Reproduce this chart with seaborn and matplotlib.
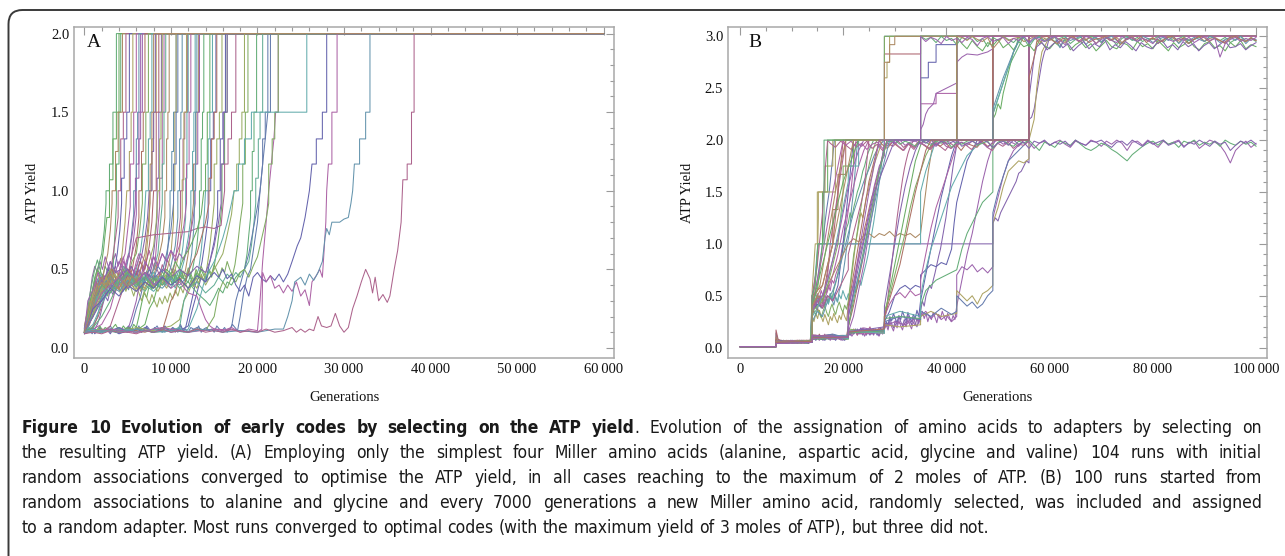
import colorsys
import numpy as np
import pandas as pd
import matplotlib
matplotlib.use("Agg")
import matplotlib.pyplot as plt
import matplotlib.patches as mpatches
from matplotlib import font_manager, transforms
import seaborn as sns

# ---------------- data: (colour index, [(generations in thousands, ATP yield), ...]) ----------------
# panel A: four Miller amino acids, every run ends at 2 ATP
a_fast = [
    (3, [(0, .12), (.4, .2), (.8, .32), (1.2, .45), (1.6, .52), (2, .6), (2.3, .75), (2.5, .92), (2.5, 1.0), (2.9, 1.0), (2.9, 1.17), (3.3, 1.17), (3.3, 1.5), (3.7, 1.5), (3.7, 2.0), (60, 2.0)]),
    (7, [(0, .1), (.5, .25), (1, .38), (1.5, .5), (1.8, .47), (2.2, .62), (2.6, .83), (2.9, .83), (2.9, 1.07), (3.3, 1.07), (3.3, 1.33), (3.7, 1.33), (3.7, 1.5), (4.0, 1.5), (4.0, 2.0), (60, 2.0)]),
    (6, [(0, .14), (.3, .22), (.7, .3), (1.1, .27), (1.5, .4), (1.9, .36), (2.3, .5), (2.7, .6), (3, .75), (3.2, .92), (3.2, 1.0), (3.6, 1.0), (3.6, 1.25), (3.9, 1.25), (3.9, 1.5), (4.4, 1.5), (4.4, 2.0), (60, 2.0)]),
    (1, [(0, .1), (.4, .18), (.9, .3), (1.4, .42), (1.8, .35), (2.3, .46), (2.8, .4), (3.2, .55), (3.6, .7), (3.9, .83), (3.9, 1.0), (4.2, 1.0), (4.2, 1.33), (4.5, 1.33), (4.5, 1.5), (4.8, 1.5), (4.8, 2.0), (60, 2.0)]),
    (0, [(0, .09), (.3, .15), (.8, .28), (1.3, .35), (1.8, .45), (2.3, .38), (2.8, .5), (3.3, .44), (3.8, .6), (4.1, .75), (4.3, .92), (4.3, 1.08), (4.6, 1.08), (4.6, 1.33), (4.9, 1.33), (4.9, 1.5), (5.2, 1.5), (5.2, 2.0), (60, 2.0)]),
    (2, [(0, .12), (.5, .22), (1, .35), (1.5, .48), (2, .4), (2.5, .45), (3, .38), (3.5, .5), (4, .45), (4.4, .62), (4.7, .8), (4.9, 1.0), (5.2, 1.0), (5.2, 1.25), (5.4, 1.25), (5.4, 1.5), (5.6, 1.5), (5.6, 2.0), (60, 2.0)]),
    (5, [(0, .1), (.6, .2), (1.2, .3), (1.8, .42), (2.4, .35), (3, .48), (3.6, .4), (4.2, .52), (4.7, .6), (5, .75), (5.3, .9), (5.3, 1.17), (5.7, 1.17), (5.7, 1.5), (6.0, 1.5), (6.0, 2.0), (60, 2.0)]),
    (8, [(0, .13), (.5, .2), (1, .27), (1.5, .38), (2, .45), (2.5, .38), (3, .42), (3.5, .35), (4, .46), (4.5, .4), (5, .55), (5.4, .7), (5.7, .85), (5.7, 1.0), (6, 1.0), (6, 1.33), (6.15, 1.33), (6.15, 1.5), (6.3, 1.5), (6.3, 2.0), (60, 2.0)]),
    (9, [(0, .1), (.4, .3), (1, .37), (1.6, .48), (2.2, .4), (2.8, .52), (3.4, .45), (4, .55), (4.6, .48), (5.2, .6), (5.6, .75), (5.9, .92), (5.9, 1.08), (6.3, 1.08), (6.3, 1.33), (6.5, 1.33), (6.5, 1.5), (6.7, 1.5), (6.7, 2.0), (60, 2.0)]),
    (10, [(0, .11), (.7, .18), (1.4, .25), (2, .33), (2.6, .45), (3.2, .5), (3.8, .42), (4.4, .48), (5, .4), (5.6, .52), (6, .65), (6.3, .83), (6.3, 1.0), (6.6, 1.0), (6.6, 1.25), (6.8, 1.25), (6.8, 1.5), (7, 1.5), (7, 2.0), (60, 2.0)]),
    (11, [(0, .1), (.5, .15), (1, .22), (1.5, .3), (2, .35), (2.5, .42), (3, .38), (3.5, .47), (4, .43), (4.5, .5), (5, .45), (5.5, .55), (6, .6), (6.4, .75), (6.7, .92), (6.7, 1.17), (7.1, 1.17), (7.1, 1.5), (7.4, 1.5), (7.4, 2.0), (60, 2.0)]),
    (12, [(0, .1), (.5, .13), (1, .12), (1.5, .2), (2, .32), (2.5, .4), (3, .45), (3.5, .38), (4, .44), (4.5, .36), (5, .45), (5.5, .42), (6, .5), (6.5, .62), (6.9, .8), (7.1, 1.0), (7.4, 1.0), (7.4, 1.33), (7.6, 1.33), (7.6, 1.5), (7.8, 1.5), (7.8, 2.0), (60, 2.0)]),
    (13, [(0, .12), (.6, .2), (1.2, .28), (1.8, .36), (2.4, .45), (3, .55), (3.6, .48), (4.2, .5), (4.8, .44), (5.4, .52), (6, .46), (6.6, .58), (7, .7), (7.3, .83), (7.5, 1.0), (7.8, 1.0), (7.8, 1.25), (8, 1.25), (8, 1.5), (8.2, 1.5), (8.2, 2.0), (60, 2.0)]),
    (14, [(0, .1), (.8, .12), (1.6, .2), (2.2, .3), (2.8, .42), (3.4, .38), (4, .47), (4.6, .4), (5.2, .5), (5.8, .43), (6.4, .55), (7, .5), (7.5, .65), (7.8, .8), (8, 1.0), (8.3, 1.0), (8.3, 1.5), (8.6, 1.5), (8.6, 2.0), (60, 2.0)]),
    (15, [(0, .11), (1, .2), (2, .35), (2.5, .45), (3, .5), (3.5, .42), (4, .46), (4.5, .4), (5, .5), (5.5, .45), (6, .38), (6.5, .47), (7, .43), (7.5, .55), (8, .65), (8.3, .8), (8.5, 1.0), (8.7, 1.0), (8.7, 1.33), (8.85, 1.33), (8.85, 1.5), (9, 1.5), (9, 2.0), (60, 2.0)]),
    (16, [(0, .1), (.5, .14), (1, .26), (1.5, .33), (2, .3), (2.5, .38), (3, .46), (3.5, .4), (4, .45), (4.5, .52), (5, .47), (5.5, .4), (6, .45), (6.5, .38), (7, .48), (7.5, .42), (8, .5), (8.5, .6), (8.8, .8), (9, .92), (9, 1.17), (9.2, 1.17), (9.2, 1.5), (9.4, 1.5), (9.4, 2.0), (60, 2.0)]),
    (2, [(0, .1), (.5, .2), (1, .32), (1.5, .4), (2, .36), (2.5, .44), (3, .4), (3.5, .47), (4, .42), (4.5, .38), (5, .44), (5.5, .4), (6, .46), (6.5, .41), (7, .37), (7.5, .43), (8, .39), (8.5, .45), (9, .4), (9.5, .48), (10, .6), (10.3, .8), (10.3, 1.0), (10.45, 1.0), (10.45, 1.5), (10.6, 1.5), (10.6, 2.0), (60, 2.0)]),
    (12, [(0, .1), (.7, .2), (1.4, .3), (2, .38), (3, .35), (4, .42), (5, .38), (6, .44), (7, .4), (8, .36), (9, .42), (10, .38), (10.5, .44), (11, .5), (11.4, .65), (11.7, .83), (11.7, 1.08), (11.85, 1.08), (11.85, 1.5), (12, 1.5), (12, 2.0), (60, 2.0)]),
]

a_mid = [
    (6, [(0, .1), (1, .25), (1.5, .4), (2, .45), (2.5, .4), (3, .47), (3.5, .43), (4, .38), (4.5, .44), (5, .48), (5.5, .4), (6, .44), (6.5, .36), (7, .42), (7.5, .4), (8, .46), (8.5, .55), (9, .68), (9.3, .83), (9.3, 1.0), (9.5, 1.0), (9.5, 1.33), (9.65, 1.33), (9.65, 1.5), (9.8, 1.5), (9.8, 2.0), (60, 2.0)]),
    (1, [(0, .1), (1, .12), (2, .1), (3, .14), (3.5, .22), (4, .3), (4.5, .38), (5, .45), (5.5, .6), (6, .7), (8, .72), (10, .73), (12, .74), (13, .76), (14, .77), (15, .76), (15.8, .78), (16, .9), (16.2, 1.0), (16.2, 1.17), (16.6, 1.17), (16.6, 1.33), (17, 1.33), (17, 1.5), (17.5, 1.5), (17.5, 2.0), (60, 2.0)]),
    (4, [(0, .1), (1, .11), (2, .1), (3, .12), (4, .11), (5, .1), (5.5, .15), (6, .25), (6.5, .33), (7, .45), (7.5, .5), (8, .44), (8.5, .52), (9, .48), (9.5, .6), (10, .75), (10.3, .92), (10.3, 1.17), (10.6, 1.17), (10.6, 1.5), (10.8, 1.5), (10.8, 2.0), (60, 2.0)]),
    (8, [(0, .12), (.5, .2), (1, .3), (2, .4), (3, .45), (4, .4), (5, .47), (6, .42), (7, .48), (8, .4), (9, .46), (9.5, .42), (10, .52), (10.5, .65), (10.8, .83), (10.8, 1.0), (11, 1.0), (11, 1.33), (11.15, 1.33), (11.15, 1.5), (11.3, 1.5), (11.3, 2.0), (60, 2.0)]),
    (2, [(0, .1), (1, .2), (1.5, .3), (2, .38), (2.5, .45), (3, .4), (3.5, .35), (4, .42), (4.5, .38), (5, .45), (5.5, .4), (6, .36), (6.5, .42), (7, .38), (7.5, .44), (8, .4), (8.5, .36), (9, .42), (9.5, .38), (10, .44), (10.5, .5), (11, .62), (11.3, .83), (11.3, 1.07), (11.5, 1.07), (11.5, 1.5), (11.8, 1.5), (11.8, 2.0), (60, 2.0)]),
    (5, [(0, .1), (1, .12), (2, .15), (3, .25), (3.5, .35), (4, .4), (4.5, .55), (5, .5), (5.5, .45), (6, .52), (6.5, .6), (7, .55), (7.5, .5), (8, .58), (8.5, .52), (9, .6), (9.5, .55), (10, .62), (10.5, .58), (11, .65), (11.5, .78), (11.8, .92), (11.8, 1.17), (12.1, 1.17), (12.1, 1.5), (12.3, 1.5), (12.3, 2.0), (60, 2.0)]),
    (12, [(0, .1), (1, .15), (2, .28), (3, .38), (4, .45), (5, .4), (6, .46), (7, .42), (8, .48), (9, .4), (10, .45), (10.5, .38), (11, .45), (11.5, .55), (12, .7), (12.3, .83), (12.3, 1.0), (12.5, 1.0), (12.5, 1.25), (12.65, 1.25), (12.65, 1.5), (12.8, 1.5), (12.8, 2.0), (60, 2.0)]),
    (9, [(0, .1), (1, .1), (2, .12), (3, .1), (4, .13), (5, .11), (5.5, .2), (6, .3), (6.5, .45), (7, .55), (7.5, .5), (8, .58), (8.5, .52), (9, .6), (9.5, .55), (10, .62), (10.5, .55), (11, .6), (11.5, .56), (12, .65), (12.5, .8), (12.8, .92), (12.8, 1.17), (13.1, 1.17), (13.1, 1.5), (13.3, 1.5), (13.3, 2.0), (60, 2.0)]),
    (8, [(0, .11), (1, .2), (2, .32), (3, .4), (4, .36), (5, .43), (6, .39), (7, .45), (8, .41), (9, .38), (10, .44), (11, .4), (12, .46), (12.4, .6), (12.7, .8), (12.7, 1.0), (12.85, 1.0), (12.85, 1.5), (13, 1.5), (13, 2.0), (60, 2.0)]),
    (3, [(0, .11), (1, .13), (2, .2), (3, .3), (4, .42), (5, .48), (6, .4), (7, .45), (8, .38), (9, .44), (10, .4), (11, .46), (12, .42), (12.5, .5), (13, .65), (13.3, .83), (13.3, 1.0), (13.5, 1.0), (13.5, 1.33), (13.65, 1.33), (13.65, 1.5), (13.8, 1.5), (13.8, 2.0), (60, 2.0)]),
    (7, [(0, .1), (1, .11), (2, .1), (3, .12), (4, .1), (5, .13), (6, .11), (7, .15), (7.5, .25), (8, .3), (8.5, .4), (9, .45), (9.5, .5), (10, .47), (10.5, .55), (11, .5), (11.5, .58), (12, .62), (12.5, .68), (13, .75), (13.5, .85), (13.8, 1.0), (14, 1.0), (14, 1.17), (14.2, 1.17), (14.2, 1.5), (14.5, 1.5), (14.5, 2.0), (60, 2.0)]),
    (10, [(0, .1), (1, .12), (2, .1), (3, .11), (4, .1), (5, .12), (6, .11), (7, .1), (8, .12), (9, .11), (9.5, .2), (10, .3), (10.5, .35), (11, .45), (11.5, .4), (12, .48), (12.5, .55), (13, .6), (13.5, .7), (14, .8), (14.4, .92), (14.4, 1.08), (14.7, 1.08), (14.7, 1.33), (15, 1.33), (15, 1.5), (15.3, 1.5), (15.3, 2.0), (60, 2.0)]),
    (0, [(0, .09), (1, .11), (2, .1), (3, .12), (4, .09), (5, .11), (6, .1), (7, .13), (8, .1), (9, .12), (10, .1), (11, .11), (12, .14), (12.5, .25), (13, .35), (13.5, .45), (14, .42), (14.5, .55), (15, .68), (15.4, .83), (15.4, 1.0), (15.7, 1.0), (15.7, 1.33), (16, 1.33), (16, 1.5), (16.3, 1.5), (16.3, 2.0), (60, 2.0)]),
    (13, [(0, .1), (1, .2), (2, .3), (3, .38), (4, .45), (5, .5), (6, .42), (7, .48), (8, .44), (9, .5), (10, .45), (11, .5), (12, .46), (13, .52), (14, .48), (14.5, .55), (15, .65), (15.5, .8), (15.8, .92), (15.8, 1.17), (16.1, 1.17), (16.1, 1.5), (16.5, 1.5), (16.5, 2.0), (60, 2.0)]),
    (15, [(0, .1), (2, .12), (4, .1), (6, .13), (8, .11), (10, .14), (11, .18), (11.5, .3), (12, .35), (12.5, .42), (13, .38), (13.5, .46), (14, .4), (14.5, .45), (15, .5), (15.5, .55), (16, .6), (16.5, .72), (17, .85), (17.3, 1.0), (17.6, 1.0), (17.6, 1.17), (17.9, 1.17), (17.9, 1.33), (18.2, 1.33), (18.2, 1.5), (18.5, 1.5), (18.5, 2.0), (60, 2.0)]),
]

a_slow = [
    (3, [(0, .1), (1, .3), (2, .4), (3, .35), (4, .45), (5, .38), (6, .42), (7, .36), (8, .45), (9, .4), (10, .46), (11, .38), (12, .42), (13, .35), (14, .3), (14.5, .27), (15, .32), (15.5, .38), (16, .35), (16.5, .42), (17, .4), (17.5, .45), (18, .48), (18.5, .5), (18.8, .6), (19, .72), (19.2, .83), (19.2, 1.0), (19.4, 1.0), (19.4, 1.25), (19.6, 1.25), (19.6, 1.5), (19.9, 1.5), (19.9, 2.0), (60, 2.0)]),
    (16, [(0, .1), (2, .1), (4, .12), (6, .1), (8, .12), (10, .11), (11, .13), (11.5, .3), (12, .38), (13, .42), (14, .35), (15, .4), (15.5, .45), (16, .42), (16.5, .47), (17, .44), (17.5, .48), (18, .45), (18.5, .5), (19, .55), (19.3, .65), (19.6, .8), (19.8, .92), (19.8, 1.08), (20.1, 1.08), (20.1, 1.33), (20.3, 1.33), (20.3, 1.5), (20.6, 1.5), (20.6, 2.0), (60, 2.0)]),
    (4, [(0, .1), (1, .12), (2, .1), (3, .11), (4, .13), (5, .1), (6, .12), (7, .11), (8, .1), (9, .13), (10, .11), (11, .12), (12, .1), (13, .13), (14, .11), (15, .12), (16, .1), (17, .13), (17.5, .3), (18, .4), (18.5, .5), (19, .6), (19.5, .75), (20, .9), (20.3, 1.0), (20.6, 1.17), (20.9, 1.33), (21.2, 1.5), (21.5, 1.5), (21.5, 2.0), (60, 2.0)]),
    (5, [(0, .12), (1, .25), (2, .35), (3, .4), (4, .45), (5, .38), (6, .42), (7, .48), (8, .4), (9, .45), (10, .38), (11, .42), (12, .35), (13, .33), (13.5, .25), (14, .18), (14.5, .14), (15, .12), (16, .11), (17, .13), (18, .1), (19, .12), (20, .11), (20.3, .3), (20.6, .55), (21, .8), (21.3, 1.0), (21.6, 1.17), (21.9, 1.33), (22.1, 1.5), (22.4, 1.5), (22.4, 2.0), (60, 2.0)]),
    (11, [(0, .1), (2, .11), (4, .1), (6, .12), (8, .1), (10, .11), (12, .1), (13, .12), (14, .11), (15, .2), (15.5, .35), (16, .42), (16.5, .38), (17, .45), (17.5, .42), (18, .48), (18.5, .5), (19, .45), (19.5, .52), (20, .58), (20.5, .7), (21, .82), (21.3, .92), (21.3, 1.17), (21.7, 1.17), (21.7, 1.33), (22, 1.33), (22, 1.5), (22.4, 1.5), (22.4, 2.0), (60, 2.0)]),
    (12, [(0, .1), (1, .12), (2, .1), (3, .11), (4, .1), (5, .12), (6, .1), (7, .11), (8, .12), (9, .1), (10, .11), (11, .13), (11.5, .1), (12, .12), (13, .25), (13.5, .35), (14, .45), (14.5, .5), (15, .55), (15.5, .62), (16, .7), (16.5, .8), (17, .92), (17.3, 1.0), (17.8, 1.0), (17.8, 1.17), (18.5, 1.17), (18.5, 1.33), (19.3, 1.33), (19.3, 1.5), (25.7, 1.5), (25.7, 2.0), (60, 2.0)]),
    (0, [(0, .1), (1, .25), (2, .3), (3, .38), (4, .33), (5, .4), (6, .36), (7, .42), (8, .38), (9, .45), (10, .4), (11, .44), (12, .38), (13, .46), (14, .42), (15, .48), (15.5, .45), (16, .5), (16.5, .44), (17, .47), (17.5, .4), (18, .36), (18.5, .4), (19, .33), (19.5, .45), (20, .48), (20.5, .44), (21, .42), (21.5, .46), (22, .43), (22.5, .47), (23, .42), (23.5, .47), (24, .55), (24.6, .65), (25, .7), (25.5, .83), (26, 1.0), (26.3, 1.17), (26.8, 1.17), (26.8, 1.33), (27.5, 1.33), (27.5, 1.5), (28, 1.5), (28, 2.0), (60, 2.0)]),
    (5, [(0, .1), (3, .12), (6, .1), (9, .13), (12, .1), (15, .12), (18, .11), (20, .1), (20.5, .12), (20.6, .48), (21, .42), (21.5, .46), (22, .38), (22.5, .4), (23, .35), (23.5, .4), (24, .36), (24.5, .42), (25, .33), (25.5, .37), (26, .27), (26.3, .42), (26.8, .46), (27.2, .5), (27.5, .45), (27.7, .62), (27.9, .8), (28, 1.0), (28.2, 1.17), (28.6, 1.17), (28.6, 1.5), (29.2, 1.5), (29.2, 2.0), (60, 2.0)]),
    (8, [(0, .1), (2, .11), (4, .1), (6, .12), (8, .1), (10, .11), (12, .1), (14, .12), (16, .1), (18, .11), (20, .1), (22, .12), (23, .12), (23.5, .2), (24, .3), (24.3, .42), (25, .45), (25.5, .4), (26, .47), (26.5, .43), (27, .48), (27.5, .55), (27.8, .7), (28, .76), (28.3, .72), (28.6, .8), (29.5, .8), (30, .82), (30.5, .83), (30.8, .92), (31, 1.0), (31.2, 1.17), (31.8, 1.17), (31.8, 1.33), (32.5, 1.33), (32.5, 1.5), (33, 1.5), (33, 2.0), (60, 2.0)]),
    (1, [(0, .09), (1, .1), (2, .09), (3, .11), (4, .1), (5, .1), (6, .09), (7, .11), (8, .1), (9, .12), (10, .1), (11, .11), (12, .1), (13, .12), (14, .1), (15, .11), (16, .1), (17, .12), (18, .1), (19, .11), (20, .1), (21, .12), (22, .1), (23, .11), (24, .13), (24.5, .1), (25, .12), (25.5, .1), (26, .12), (26.5, .11), (27, .2), (27.4, .14), (28, .13), (28.5, .14), (29, .22), (29.5, .14), (30, .1), (30.5, .13), (31, .25), (31.5, .33), (32, .42), (32.5, .5), (33, .44), (33.3, .35), (33.6, .45), (34, .3), (34.5, .34), (35, .29), (35.3, .33), (35.8, .5), (36.2, .62), (36.6, .8), (36.8, 1.07), (37.3, 1.07), (37.3, 1.17), (37.8, 1.17), (37.8, 1.5), (38.1, 1.5), (38.1, 2.0), (60, 2.0)]),
    (6, [(0, .1), (.5, .18), (1, .3), (1.5, .36), (2, .42), (2.5, .38), (3, .45), (3.5, .4), (4, .37), (4.5, .43), (5, .39), (5.5, .46), (6, .42), (6.5, .5), (7, .6), (7.3, .75), (7.6, .92), (7.6, 1.17), (7.8, 1.17), (7.8, 1.5), (8, 1.5), (8, 2.0), (60, 2.0)]),
]

# noisy runs in panel A sampled every 300 generations from 0: (colour, yields, then the climb to 2 ATP)
a_swarm = [
    (2, [.1, .15, .22, .3, .36, .33, .41, .45, .39, .47, .42, .5, .44, .4, .48, .43, .52, .46, .41, .49, .44, .38, .46, .5],
     [(7.2, .62), (7.5, .8), (7.5, 1.0), (7.8, 1.0), (7.8, 1.33), (8.0, 1.33), (8.0, 1.5), (8.3, 1.5), (8.3, 2.0), (60, 2.0)]),
    (8, [.12, .18, .26, .35, .42, .38, .45, .4, .36, .43, .47, .41, .38, .44, .4, .46, .42, .37, .43, .48, .41, .45, .39, .44, .47, .42, .38, .45, .41, .46, .43, .49],
     [(9.6, .6), (9.9, .83), (9.9, 1.0), (10.1, 1.0), (10.1, 1.25), (10.3, 1.25), (10.3, 1.5), (10.6, 1.5), (10.6, 2.0), (60, 2.0)]),
    (9, [.1, .2, .32, .45, .52, .48, .55, .5, .58, .53, .47, .55, .6, .52, .57, .49, .54, .6, .56],
     [(5.7, .7), (6.0, .85), (6.0, 1.17), (6.3, 1.17), (6.3, 1.5), (6.5, 1.5), (6.5, 2.0), (60, 2.0)]),
    (0, [.09, .11, .1, .12, .09, .11, .13, .1, .12, .11, .09, .12, .1, .13, .11, .1, .12, .14, .11, .1, .13, .12, .1, .11, .14, .12, .1, .13, .11, .12, .1, .14, .12, .11, .13, .1, .12, .15, .11, .13],
     [(12, .2), (12.4, .3), (12.8, .4), (13.2, .45), (13.6, .55), (14, .7), (14.3, .83), (14.3, 1.0), (14.6, 1.0), (14.6, 1.33), (14.9, 1.33), (14.9, 1.5), (15.2, 1.5), (15.2, 2.0), (60, 2.0)]),
    (4, [.1, .12, .11, .09, .12, .1, .13, .11, .1, .12, .14, .11, .1, .13, .12, .1, .11, .13, .1, .12, .11, .14, .1, .12, .13, .11, .1, .12, .14, .11,
         .13, .1, .12, .11, .13, .12, .1, .14, .11, .12, .1, .13, .12, .11, .14, .1, .12, .13, .11, .12, .1, .14, .12, .11, .13, .1, .12, .15, .13, .11],
     [(18, .2), (18.4, .35), (18.8, .45), (19.2, .5), (19.6, .65), (20, .8), (20.3, 1.0), (20.6, 1.17), (20.6, 1.33), (20.9, 1.33), (20.9, 1.5), (21.2, 1.5), (21.2, 2.0), (60, 2.0)]),
    (5, [.11, .16, .24, .3, .38, .44, .4, .47, .43, .5, .55, .48, .52, .46, .53, .58, .5, .45, .52, .48, .55, .6, .53, .49, .56, .62, .55, .5],
     [(8.4, .7), (8.7, .9), (8.7, 1.08), (9, 1.08), (9, 1.5), (9.2, 1.5), (9.2, 2.0), (60, 2.0)]),
    (3, [.13, .22, .33, .42, .5, .56, .5, .45, .52, .48, .43, .5],
     [(3.5, .7), (3.7, .92), (3.7, 1.17), (4.0, 1.17), (4.0, 1.5), (4.2, 1.5), (4.2, 2.0), (60, 2.0)]),
    (6, [.1, .13, .18, .25, .31, .37, .34, .41, .38, .44, .4, .36, .42, .39, .45, .41, .37, .43, .4, .46, .42, .38, .44, .41, .47, .43, .39, .45, .42, .48, .44, .4, .46, .43, .49, .45, .41, .47, .44, .5],
     [(12, .6), (12.3, .75), (12.6, .92), (12.6, 1.17), (12.9, 1.17), (12.9, 1.5), (13.2, 1.5), (13.2, 2.0), (60, 2.0)]),
    (12, [.1, .14, .21, .29, .36, .42, .47, .43, .39, .45, .41, .48, .44, .4, .46, .43, .38, .44, .41, .47, .43, .39, .45, .42, .48, .44, .41, .46, .43, .38,
          .45, .42, .47, .44, .4, .46, .43, .49, .45, .42, .47, .44, .4, .46, .5],
     [(13.5, .62), (13.8, .8), (14, 1.0), (14.3, 1.0), (14.3, 1.33), (14.5, 1.33), (14.5, 1.5), (14.8, 1.5), (14.8, 2.0), (60, 2.0)]),
    (11, [.12, .17, .23, .3, .27, .35, .32, .4, .37, .33, .41, .38, .44, .4, .36, .43, .39, .46, .42, .38, .45, .41, .37, .44, .4, .47, .43, .39, .46, .42,
          .49, .45, .41, .48, .44, .5, .46, .42, .49, .45, .51, .47, .43, .5, .46, .52, .48, .44, .5, .47, .53, .49, .45, .51, .48, .55, .5, .46, .53],
     [(17.7, .65), (18, .8), (18.3, .92), (18.3, 1.17), (18.6, 1.17), (18.6, 1.5), (18.9, 1.5), (18.9, 2.0), (60, 2.0)]),
    (1, [.1, .12, .15, .2, .26, .32, .38, .35, .42, .39, .45, .41, .37, .44, .4, .47, .43, .5, .46, .42, .49, .45, .52, .48, .44, .51, .47, .54, .5, .46, .53, .49, .56, .52, .48, .55],
     [(10.8, .68), (11.1, .83), (11.1, 1.0), (11.4, 1.0), (11.4, 1.33), (11.6, 1.33), (11.6, 1.5), (11.9, 1.5), (11.9, 2.0), (60, 2.0)]),
    (13, [.1, .11, .13, .1, .12, .15, .2, .27, .33, .3, .37, .34, .41, .38, .45, .42, .48, .44, .4, .47, .43, .5, .46, .42, .49, .45, .52],
     [(8.1, .65), (8.4, .83), (8.4, 1.08), (8.6, 1.08), (8.6, 1.5), (8.9, 1.5), (8.9, 2.0), (60, 2.0)]),
    (7, [.1, .12, .11, .13, .1, .12, .14, .11, .13, .12, .1, .13, .15, .12, .11, .14, .12, .13, .11, .15, .13, .2, .28, .35, .32, .4, .37, .44, .41, .38,
         .45, .42, .48, .44, .4, .47, .43, .5, .46, .42, .49, .45, .41, .48, .44, .5, .46, .43, .49, .45, .52],
     [(15.3, .62), (15.6, .75), (15.9, .92), (15.9, 1.17), (16.2, 1.17), (16.2, 1.5), (16.5, 1.5), (16.5, 2.0), (60, 2.0)]),
    (15, [.11, .18, .27, .36, .44, .4, .36, .42, .38, .45, .41, .37, .43, .39, .34, .4, .36, .42, .38, .33, .39, .35, .3, .36, .32, .28, .34, .3, .26, .32,
          .28, .33, .29, .35, .31, .37, .33, .39, .35, .41, .37, .43, .39, .45, .41, .47, .43, .49],
     [(14.4, .6), (14.7, .75), (15, .92), (15, 1.17), (15.3, 1.17), (15.3, 1.33), (15.6, 1.33), (15.6, 1.5), (15.9, 1.5), (15.9, 2.0), (60, 2.0)]),
]
a_swarm_step = 0.3

# panel B: a new amino acid every 7000 generations
b_start = [(0, .01), (7, .01)]
b_runs = [
    (4, [(7, .07), (10, .06), (14, .05), (14, .45), (14.5, .52), (15, .65), (15.5, .82), (16, 1.0), (16.4, 1.17), (16.8, 1.33), (17.3, 1.5), (17.8, 1.75), (18.3, 2.0), (28, 2.0), (28, 3.0), (100, 3.0)]),
    (14, [(7, .17), (7.4, .08), (9, .05), (11, .07), (14, .07), (14, .3), (14.5, .42), (15, .36), (15.5, .5), (16, .45), (16.5, .6), (17, .75), (17.5, .9), (18, 1.0), (18.5, 1.25), (19, 1.5), (19.5, 1.75), (20, 2.0), (28, 2.0), (28, 2.83), (35, 2.83), (35, 3.0), (100, 3.0)]),
    (2, [(7, .06), (14, .05), (14, .55), (14.6, 1.0), (15, 1.0), (15, 1.5), (16.5, 1.5), (16.5, 1.75), (18, 1.75), (18, 2.0), (28, 2.0), (28, 2.6), (28.5, 2.6), (28.5, 2.75), (29, 2.75), (29, 3.0), (100, 3.0)]),
    (1, [(7, .06), (14, .07), (14, .4), (15, .48), (16, .42), (16.5, .55), (17, .7), (17.5, 1.0), (18, 1.17), (18.5, 1.33), (19, 1.5), (19.5, 1.67), (20, 1.83), (20.5, 2.0), (42, 2.0), (42, 3.0), (100, 3.0)]),
    (0, [(7, .05), (14, .05), (14, .35), (15, .42), (16, .38), (17, .5), (18, .45), (19, .6), (19.5, .8), (20, 1.0), (20.5, 1.25), (21, 1.5), (21.5, 1.75), (22, 2.0), (35, 2.0), (35, 2.6), (36.5, 2.6), (36.5, 2.75), (38, 2.75), (38, 2.92), (42, 2.92), (42, 3.0), (100, 3.0)]),
    (5, [(7, .05), (14, .06), (14, .35), (15, .45), (16, .4), (17, .55), (18, .7), (19, .9), (20, 1.15), (21, 1.35), (22, 1.55), (23, 1.75), (24, 1.9), (25, 2.0), (35, 2.0), (35, 2.35), (38, 2.35), (38, 2.45), (42, 2.45), (42, 3.0), (100, 3.0)]),
    (8, [(7, .06), (14, .06), (14, .25), (15, .35), (16, .3), (17, .45), (18, .55), (19, .7), (20, .9), (21, 1.1), (22, 1.3), (23, 1.45), (24, 1.6), (25, 1.72), (26, 1.85), (27, 1.95), (28, 2.0), (49, 2.0), (49, 3.0), (100, 3.0)]),
    (10, [(7, .05), (14, .05), (14, .1), (17, .12), (21, .11), (21, .2), (22, .4), (23, .65), (24, .9), (25, 1.2), (26, 1.45), (27, 1.7), (28, 1.9), (28.5, 2.0), (56, 2.0), (56, 3.0), (100, 3.0)]),
    (6, [(7, .06), (14, .07), (14, .4), (15, .5), (16, .45), (17, .6), (18, .7), (19, .8), (20, .9), (21, 1.0), (22, 1.05), (23, 1.02), (24, 1.08), (25, 1.1), (26, 1.06), (27, 1.1), (28, 1.08), (29, 1.12), (30, 1.07), (31, 1.1), (32, 1.08), (33, 1.1), (34, 1.06), (35, 1.1), (35.5, 1.3), (36, 1.5), (36.5, 1.7), (37, 1.85), (37.5, 2.0), (42, 2.0), (42, 3.0), (100, 3.0)]),
    (13, [(7, .05), (14, .06), (14, .5), (14.5, .6), (15.2, 1.0), (49, 1.0), (49, 1.2), (49.5, 1.25), (50, 1.22), (50.5, 1.3), (51, 1.35), (51.5, 1.4), (52, 1.45), (52.5, 1.5), (53, 1.55), (53.5, 1.6), (54, 1.68), (54.5, 1.7), (55, 1.75), (55.5, 1.8), (56, 1.78), (56, 2.2), (56.5, 2.22), (57, 2.3), (57.5, 2.45), (58, 2.6), (58.5, 2.75), (59, 2.85), (59.5, 2.9), (60, 3.0), (100, 3.0)]),
    (12, [(7, .05), (14, .06), (14, .45), (14.6, .7), (15.1, 1.0), (35, 1.0), (35, 1.5), (36, 1.7), (37, 1.85), (38, 2.0), (49, 2.0), (49, 3.0), (100, 3.0)]),
    (7, [(7, .05), (14, .05), (14, .09), (18, .1), (21, .08), (21, .14), (24, .16), (28, .15), (28, .3), (29, .55), (30, .8), (31, 1.05), (32, 1.3), (33, 1.55), (34, 1.8), (35, 1.95), (35.5, 2.0), (49, 2.0), (49, 2.2), (49.5, 2.25), (50, 2.35), (50.5, 2.3), (51, 2.45), (51.5, 2.55), (52, 2.65), (52.5, 2.75), (53, 2.85), (53.5, 2.9), (54, 3.0), (100, 3.0)]),
    (11, [(7, .04), (14, .05), (14, .1), (21, .1), (21, .18), (25, .15), (28, .17), (28, .35), (29, .5), (30, .7), (31, .9), (32, 1.1), (33, 1.35), (34, 1.55), (35, 1.7), (36, 1.85), (37, 1.95), (38, 2.0), (56, 2.0), (56, 3.0), (100, 3.0)]),
    (0, [(7, .05), (8, .07), (9, .04), (10, .06), (11, .05), (12, .07), (13, .05), (14, .06), (14, .1), (16, .08), (18, .12), (21, .09), (21, .15), (24, .18), (28, .14), (28, .25), (29, .35), (30, .5), (31, .57), (32, .6), (33, .56), (34, .6), (35, .58), (35, .7), (36, .75), (37, .8), (38, .78), (39, .82), (40, .8), (41, .95), (41.5, 1.2), (42, 1.4), (43, 1.6), (44, 1.8), (45, 1.9), (46, 2.0), (56, 2.0), (56, 3.0), (100, 3.0)]),
    (5, [(7, .05), (14, .05), (14, .08), (17, .12), (21, .1), (21, .17), (24, .13), (28, .16), (28, .3), (29, .42), (30, .5), (31, .53), (32, .48), (33, .55), (34, .5), (35, .52), (35, .65), (36, .9), (37, 1.15), (38, 1.35), (39, 1.5), (40, 1.65), (41, 1.8), (42, 1.95), (42.5, 2.0), (49, 2.0), (49, 3.0), (100, 3.0)]),
    (9, [(7, .05), (8, .04), (10, .07), (12, .05), (14, .06), (14, .08), (17, .11), (21, .09), (21, .13), (24, .19), (28, .15), (28, .2), (30, .25), (32, .22), (34, .28), (35, .25), (35, .3), (36, .35), (37, .28), (38, .33), (39, .27), (40, .31), (41, .25), (42, .3), (42, .7), (43, .78), (44, .75), (45, .8), (46, .73), (47, .77), (48, .72), (49, .78), (49, 1.25), (50, 1.45), (51, 1.65), (52, 1.8), (53, 1.9), (54, 1.95), (55, 2.0), (56, 2.0), (56, 3.0), (100, 3.0)]),
    (2, [(7, .06), (14, .05), (14, .09), (21, .1), (21, .16), (28, .14), (28, .22), (31, .2), (35, .22), (35, .3), (37, .35), (39, .3), (42, .33), (42, .55), (43, .5), (44, .45), (45, .5), (46, .42), (47, .52), (48, .55), (49, .6), (49, 1.2), (50, 1.35), (51, 1.55), (52, 1.7), (53, 1.75), (54, 1.8), (55, 1.78), (56, 1.82), (56, 2.0), (57, 2.2), (57.5, 2.5), (58, 2.7), (58.5, 2.85), (59, 2.9), (60, 3.0), (100, 3.0)]),
    (4, [(7, .05), (14, .06), (14, .1), (18, .13), (21, .09), (21, .15), (28, .17), (28, .25), (31, .3), (35, .27), (35, .35), (37, .3), (39, .38), (41, .32), (42, .35), (42, .5), (43, .45), (44, .4), (45, .44), (46, .38), (47, .42), (48, .5), (49, .55), (49, 1.3), (50, 1.5), (51, 1.65), (52, 1.8), (53, 1.85), (54, 1.9), (55, 1.95), (56, 2.0), (56, 3.0), (100, 3.0)]),
    (3, [(7, .05), (14, .05), (14, .08), (21, .09), (21, .14), (28, .16), (28, .28), (31, .3), (35, .28), (35, .4), (36, .55), (38, .65), (40, .7), (42, .75), (43, .95), (44, 1.1), (45, 1.2), (46, 1.3), (47, 1.4), (48, 1.45), (49, 1.5), (49, 2.25), (50, 2.4), (51, 2.55), (52, 2.7), (53, 2.8), (54, 2.9), (55, 3.0), (100, 3.0)]),
    (12, [(7, .05), (14, .06), (14, .1), (21, .09), (21, .16), (28, .14), (28, .3), (31, .35), (35, .3), (35, .5), (36, .75), (37, .95), (38, 1.1), (39, 1.25), (40, 1.4), (41, 1.55), (42, 1.65), (43, 1.75), (44, 1.85), (45, 1.9), (46, 1.95), (47, 2.0), (49, 2.0), (49, 2.25), (50, 2.4), (51, 2.55), (52, 2.7), (53, 2.85), (54, 2.95), (55, 3.0), (100, 3.0)]),
    (7, [(7, .05), (14, .05), (14, .45), (15, .55), (15.5, .75), (16, 1.0), (16, 1.5), (17, 1.5), (17, 2.0), (35, 2.0), (35, 3.0), (100, 3.0)]),
    (2, [(7, .06), (14, .06), (14, .4), (14.5, .6), (15, .8), (15.2, 1.25), (15.2, 1.5), (18.5, 1.5), (18.5, 2.0), (42, 2.0), (42, 3.0), (100, 3.0)]),
    (10, [(7, .06), (14, .05), (14, .5), (15, .55), (16, .6), (17, .8), (18, 1.0), (18, 1.33), (19, 1.33), (19, 1.67), (20.5, 1.67), (20.5, 2.0), (49, 2.0), (49, 3.0), (100, 3.0)]),
    (11, [(7, .05), (14, .07), (14, .35), (16, .45), (17, .6), (18, .8), (19, 1.0), (19.5, 1.25), (20, 1.5), (20, 1.75), (22, 1.75), (22, 2.0), (28, 2.0), (28, 3.0), (100, 3.0)]),
    (1, [(7, .05), (14, .06), (14, .4), (15, .45), (16, .38), (17, .5), (18, .45), (19, .55), (20, .65), (21, .75), (21, .9), (22, 1.1), (23, 1.3), (24, 1.5), (24.5, 1.75), (25, 2.0), (56, 2.0), (56, 3.0), (100, 3.0)]),
    (12, [(7, .05), (14, .05), (14, .3), (15, .38), (16, .5), (17, .65), (18, .85), (19, 1.1), (20, 1.35), (21, 1.6), (21, 1.75), (23, 1.75), (23, 2.0), (35, 2.0), (35, 3.0), (100, 3.0)]),
    (9, [(7, .06), (14, .06), (14, .12), (21, .1), (21, .4), (22, .6), (23, .85), (24, 1.05), (25, 1.3), (26, 1.55), (27, 1.75), (28, 1.85), (28, 2.0), (42, 2.0), (42, 3.0), (100, 3.0)]),
    (6, [(7, .05), (14, .06), (14, .45), (15.5, .6), (16.5, .9), (17.5, 1.2), (18.5, 1.5), (19.5, 1.75), (20.5, 2.0), (28, 2.0), (28, 2.75), (29, 2.75), (29, 2.92), (30, 2.92), (30, 3.0), (100, 3.0)]),
    (9, [(7, .04), (14, .05), (14, .08), (16, .1), (18, .08), (21, .1), (21, .15), (22, .3), (23, .55), (24, .8), (25, 1.1), (26, 1.4), (27, 1.7), (28, 1.95), (29, 2.0), (35, 2.0), (35, 2.1), (35.5, 2.15), (36, 2.25), (36.5, 2.3), (37.5, 2.35), (38, 2.45), (40, 2.5), (42, 2.55), (42, 2.75), (43, 2.8), (44, 2.83), (46, 2.82), (48, 2.85), (49, 2.88), (49, 3.0), (100, 3.0)]),
]

# noisy runs in panel B sampled every 350 generations from 7000: (colour, yields, then the rest of the run)
b_swarm = [
    (8, [.14, .08, .06, .05, .07, .04, .06, .05, .07, .06, .04, .06, .05, .07, .05, .06, .04, .06, .05, .07,
         .35, .42, .38, .46, .41, .5, .44, .39, .47, .42, .52, .46, .41, .49, .44, .55, .6, .7, .82, .95],
     [(21.2, 1.1), (21.6, 1.33), (22, 1.5), (22.4, 1.75), (22.8, 2.0), (42, 2.0), (42, 3.0), (100, 3.0)]),
    (2, [.1, .07, .05, .06, .04, .06, .07, .05, .06, .04, .05, .07, .06, .05, .04, .06, .05, .07, .06, .05,
         .3, .25, .33, .28, .36, .3, .25, .32, .27, .22, .3, .26, .33, .28, .24, .31, .27, .35, .3, .26,
         .4, .55, .7, .85, 1.0, 1.1, 1.2, 1.3, 1.25, 1.35, 1.45, 1.5, 1.6, 1.65, 1.75, 1.8, 1.85, 1.9, 1.95, 2.0],
     [(56, 2.0), (56, 3.0), (100, 3.0)]),
    (5, [.06, .05, .07, .04, .06, .05, .07, .06, .05, .04, .06, .07, .05, .06, .04, .06, .05, .07, .05, .06,
         .45, .5, .44, .52, .47, .55, .5, .58, .53, .6, .55, .65, .62, .7, .75, .8, .9, 1.0, 1.1, 1.2],
     [(21.5, 1.5), (22, 1.75), (22.5, 2.0), (35, 2.0), (35, 3.0), (100, 3.0)]),
    (0, [.05, .06, .04, .07, .05, .06, .05, .04, .06, .07, .05, .06, .04, .05, .07, .06, .05, .04, .06, .05,
         .08, .1, .07, .09, .11, .08, .1, .07, .09, .12, .08, .1, .09, .07, .11, .08, .1, .09, .07, .1,
         .15, .12, .17, .14, .18, .13, .16, .19, .14, .17, .12, .16, .18, .13, .17, .15, .12, .16, .19, .15,
         .2, .25, .22, .3, .26, .33, .28, .24, .31, .27, .35, .3, .26, .34, .29, .25, .32, .28, .36, .3],
     [(35, .45), (36, .7), (37, .95), (38, 1.2), (39, 1.45), (40, 1.65), (41, 1.85), (42, 2.0), (49, 2.0), (49, 3.0), (100, 3.0)]),
    (9, [.07, .05, .06, .04, .07, .05, .06, .07, .05, .04, .06, .05, .07, .06, .04, .05, .06, .07, .05, .06,
         .1, .08, .11, .09, .07, .1, .12, .08, .09, .11, .07, .1, .08, .12, .09, .1, .07, .11, .09, .08,
         .12, .15, .11, .14, .17, .12, .15, .13, .16, .11, .14, .17, .13, .15, .12, .16, .14, .11, .15, .13,
         .18, .22, .17, .25, .2, .16, .23, .19, .26, .21, .17, .24, .2, .27, .22, .18, .25, .21, .28, .23,
         .3, .35, .28, .33, .25, .31, .27, .34, .29, .24, .32, .28, .35, .3, .26, .33, .29, .25, .31, .27],
     [(42, .4), (43, .65), (44, .9), (45, 1.1), (46, 1.35), (47, 1.6), (48, 1.8), (49, 1.95), (49.5, 2.0), (56, 2.0), (56, 3.0), (100, 3.0)]),
    (3, [.05, .07, .04, .06, .05, .07, .04, .06, .05, .06, .07, .04, .05, .06, .05, .07, .04, .06, .05, .06,
         .4, .47, .42, .5, .45, .38, .46, .41, .49, .43, .52, .47, .56, .62, .7, .78, .86, .95, 1.05, 1.15,
         1.2, 1.3, 1.25, 1.35, 1.42, 1.5, 1.55, 1.62, 1.7, 1.75, 1.82, 1.88, 1.92, 1.96, 2.0],
     [(28, 2.0), (28, 3.0), (100, 3.0)]),
    (10, [.08, .06, .05, .07, .05, .06, .04, .06, .07, .05, .06, .05, .04, .07, .06, .05, .06, .04, .05, .07,
          .09, .12, .08, .1, .13, .09, .11, .08, .12, .1, .09, .13, .1, .08, .11, .09, .12, .1, .08, .11,
          .2, .3, .42, .55, .68, .8, .9, 1.0, 1.05, 1.15, 1.22, 1.3, 1.38, 1.45, 1.5, 1.58, 1.65, 1.7, 1.78, 1.85],
     [(28, 1.9), (28.5, 2.0), (49, 2.0), (49, 3.0), (100, 3.0)]),
    (12, [.06, .05, .07, .05, .06, .04, .06, .05, .07, .06, .05, .04, .06, .07, .05, .06, .05, .04, .06, .05,
          .5, .44, .52, .47, .4, .48, .43, .51, .46, .42, .5, .45, .53, .48, .44, .51, .47, .55, .5, .46,
          .52, .48, .55, .6, .53, .58, .65, .6, .68, .75, .82, .9, 1.0, 1.1, 1.2, 1.32, 1.45, 1.58, 1.7, 1.85],
     [(28, 2.0), (42, 2.0), (42, 3.0), (100, 3.0)]),
    (11, [.05, .06, .04, .05, .07, .06, .05, .04, .06, .05, .07, .05, .06, .04, .05, .06, .07, .05, .04, .06,
          .3, .36, .31, .38, .33, .29, .35, .4, .34, .3, .37, .42, .36, .32, .39, .44, .38, .34, .41, .37,
          .45, .6, .75, .9, 1.0, 1.12, 1.25, 1.35, 1.48, 1.55, 1.65, 1.72, 1.8, 1.86, 1.92, 1.97, 2.0],
     [(28, 2.0), (35, 2.0), (35, 3.0), (100, 3.0)]),
    (1, [.07, .05, .06, .04, .06, .05, .07, .05, .06, .05, .04, .06, .07, .05, .06, .04, .05, .06, .05, .07,
         .08, .1, .12, .09, .11, .08, .1, .13, .09, .11, .08, .12, .1, .09, .11, .08, .1, .12, .09, .1,
         .12, .16, .13, .18, .15, .12, .17, .14, .19, .15, .13, .17, .2, .15, .18, .14, .16, .19, .15, .17,
         .25, .35, .5, .65, .8, .95, 1.1, 1.25, 1.38, 1.5, 1.62, 1.72, 1.8, 1.87, 1.92, 1.96, 2.0],
     [(35, 2.0), (56, 2.0), (56, 3.0), (100, 3.0)]),
    (13, [.06, .04, .06, .05, .07, .05, .06, .04, .05, .07, .06, .05, .04, .06, .05, .07, .06, .05, .04, .06,
          .09, .11, .08, .1, .12, .09, .07, .1, .11, .08, .1, .09, .12, .08, .1, .11, .09, .07, .1, .09,
          .14, .12, .16, .13, .15, .18, .13, .16, .12, .15, .17, .14, .12, .16, .13, .18, .15, .12, .16, .14,
          .18, .24, .2, .28, .23, .19, .26, .22, .3, .25, .21, .27, .23, .31, .26, .22, .29, .24, .2, .27,
          .35, .45, .4, .5, .55, .6, .57, .65, .72, .8, .88, .95, 1.05, 1.15, 1.25, 1.38, 1.5, 1.62, 1.75, 1.85],
     [(42, 1.95), (42.5, 2.0), (56, 2.0), (56, 3.0), (100, 3.0)]),
]
b_swarm_start, b_swarm_step = 7, 0.35

# runs that hover just under a plateau: (colour, history, noisy from, noisy to, yields, what follows)
b_band_runs = [
    (1, [(7, .06), (14, .06), (14, .5), (15, .8), (16, 1.3), (16.5, 1.7), (17, 2.0)], 17.5, 56,
     [1.97, 1.93, 1.99, 1.95, 1.91, 1.98, 1.94, 1.99, 1.92, 1.96, 1.9, 1.97, 1.94, 1.99, 1.93, 1.96, 1.91, 1.98, 1.95, 1.92,
      1.99, 1.94, 1.9, 1.97, 1.93, 1.98, 1.95, 1.91, 1.96, 1.99, 1.93, 1.9, 1.97, 1.94, 1.98, 1.92, 1.96, 1.95, 1.99],
     [(56, 3.0), (100, 3.0)]),
    (10, [(7, .05), (14, .05), (14, .12), (21, .1), (21, .4), (23, 1.0), (25, 1.6), (27, 2.0)], 27.5, 49,
     [1.96, 1.92, 1.98, 1.94, 1.9, 1.97, 1.93, 1.99, 1.95, 1.91, 1.97, 1.94, 1.98, 1.92, 1.96, 1.9, 1.97, 1.95, 1.93, 1.99,
      1.94, 1.97],
     [(49, 3.0), (100, 3.0)]),
    (5, [(7, .05), (14, .06), (14, .4), (16, .9), (18, 1.5), (20, 2.0)], 20.5, 42,
     [1.95, 1.99, 1.93, 1.97, 1.91, 1.96, 1.98, 1.92, 1.95, 1.99, 1.94, 1.9, 1.97, 1.93, 1.98, 1.95, 1.91, 1.96, 1.99, 1.94,
      1.92, 1.97],
     [(42, 3.0), (100, 3.0)]),
    # the three runs that never reach 3 ATP
    (9, [(7, .05), (14, .06), (14, .35), (15, .45), (16, .5), (17, .65), (18, .85), (19, 1.05), (20, 1.3), (21, 1.55), (22, 1.75), (23, 1.9), (24, 2.0), (28, 2.0)], 29, 100,
     [1.99, 1.97, 2.0, 1.95, 1.98, 1.99, 1.96, 2.0, 1.97, 1.94, 1.99, 1.98, 2.0, 1.96, 1.98, 1.95, 1.99, 2.0, 1.97, 1.93,
      1.98, 2.0, 1.96, 1.99, 1.97, 1.94, 2.0, 1.98, 1.92, 1.97, 1.99, 1.95, 1.98, 2.0, 1.96, 1.93, 1.99, 1.97, 1.95, 2.0,
      1.98, 1.94, 1.99, 1.96, 2.0, 1.97, 1.9, 1.98, 1.99, 1.95, 2.0, 1.97, 1.93, 1.99, 1.96, 1.98, 2.0, 1.94, 1.97, 1.99,
      1.92, 1.96, 2.0, 1.98, 1.95, 1.88, 1.78, 1.9, 1.95, 1.99, 1.93, 1.97], []),
    (3, [(7, .05), (14, .06), (14, .1), (21, .1), (21, .2), (22, .45), (23, .7), (24, .95), (25, 1.2), (26, 1.45), (27, 1.7), (28, 1.9), (28.5, 2.0)], 29, 100,
     [1.98, 2.0, 1.96, 1.99, 1.97, 1.94, 2.0, 1.98, 1.95, 1.99, 1.97, 2.0, 1.93, 1.98, 1.96, 1.99, 2.0, 1.95, 1.97, 1.99,
      1.92, 1.98, 2.0, 1.96, 1.94, 1.99, 1.97, 2.0, 1.95, 1.9, 1.98, 1.96, 1.93, 1.99, 1.97, 1.95, 2.0, 1.96, 1.92, 1.9,
      1.93, 1.97, 1.95, 1.91, 1.88, 1.84, 1.8, 1.86, 1.9, 1.94, 1.97, 1.99, 1.95, 2.0, 1.96, 1.98, 1.93, 1.99, 1.97, 2.0,
      1.95, 1.98, 1.96, 1.99, 1.94, 2.0, 1.97, 1.95, 1.99, 1.96, 1.98, 1.94], []),
    (13, [(7, .05), (14, .05), (14, .1), (21, .1), (21, .15), (28, .2), (28, .4), (29, .7), (30, 1.0), (31, 1.3), (32, 1.55), (33, 1.75), (34, 1.9), (35, 2.0)], 36, 100,
     [1.97, 2.0, 1.95, 1.99, 1.96, 1.98, 2.0, 1.94, 1.97, 1.99, 1.96, 2.0, 1.98, 1.93, 1.97, 1.99, 1.95, 2.0, 1.96, 1.98,
      1.92, 1.99, 1.97, 2.0, 1.95, 1.98, 1.96, 1.99, 1.94, 2.0, 1.97, 1.95, 1.99, 1.98, 2.0, 1.96, 1.93, 1.98, 1.99, 1.95,
      2.0, 1.97, 1.94, 1.99, 1.96, 1.98, 2.0, 1.95, 1.97, 1.99, 1.93, 1.98, 1.96, 2.0, 1.97, 1.94, 1.99, 1.96, 1.98, 1.9,
      1.95, 1.99, 1.97, 2.0, 1.96], []),
    # runs wandering just below 3 ATP up to the end
    (3, [(7, .05), (14, .06), (14, .5), (14.6, .6), (15.1, 1.0), (16.3, 1.0), (16.3, 2.0), (35, 2.0), (35, 3.0)], 36, 100,
     [2.97, 2.99, 2.94, 3.0, 2.96, 2.98, 2.92, 2.99, 2.97, 3.0, 2.95, 2.98, 2.9, 2.99, 2.96, 3.0, 2.97, 2.94, 2.99, 2.98,
      2.9, 2.97, 3.0, 2.96, 2.99, 2.95, 2.98, 3.0, 2.93, 2.97, 2.99, 2.96, 3.0, 2.98, 2.94, 2.99, 2.97, 2.92, 2.98, 3.0,
      2.96, 2.99, 2.95, 2.98, 2.97, 3.0, 2.94, 2.99, 2.96, 2.98, 3.0, 2.93, 2.97, 2.99, 2.95, 3.0, 2.98, 2.96, 2.99, 2.94,
      2.97, 3.0, 2.96, 2.98, 2.95], []),
    (7, [(7, .05), (14, .05), (14, .4), (17, 1.0), (20, 1.6), (23, 2.0), (42, 2.0), (42, 3.0)], 43, 100,
     [2.93, 2.88, 2.96, 2.9, 2.86, 2.94, 2.91, 2.97, 2.89, 2.93, 2.87, 2.95, 2.9, 2.92, 2.86, 2.96, 2.91, 2.88, 2.94, 2.9,
      2.97, 2.87, 2.92, 2.95, 2.89, 2.93, 2.86, 2.91, 2.96, 2.9, 2.88, 2.94, 2.92, 2.87, 2.95, 2.9, 2.93, 2.88, 2.96, 2.91,
      2.86, 2.94, 2.89, 2.92, 2.97, 2.9, 2.87, 2.93, 2.95, 2.89, 2.91, 2.86, 2.94, 2.9, 2.96, 2.88, 2.92, 2.9], []),
    (6, [(7, .06), (14, .06), (14, .4), (16, .6), (18, 1.0), (20, 1.5), (22, 2.0), (42, 2.0), (42, 3.0)], 43, 100,
     [2.99, 2.96, 3.0, 2.97, 2.95, 2.99, 2.88, 2.94, 3.0, 2.96, 2.98, 2.99, 2.95, 2.97, 3.0, 2.93, 2.98, 2.96, 2.99, 2.97,
      2.94, 3.0, 2.98, 2.95, 2.97, 2.99, 2.93, 2.98, 3.0, 2.96, 2.99, 2.94, 2.97, 3.0, 2.95, 2.98, 2.96, 2.99, 2.93, 2.97,
      3.0, 2.98, 2.94, 2.99, 2.96, 2.97, 3.0, 2.95, 2.98, 2.99, 2.96, 2.93, 2.98, 3.0, 2.97, 2.95, 2.99, 2.96], []),
    (8, [(7, .05), (14, .05), (14, .1), (21, .12), (21, .3), (24, .9), (27, 1.6), (29, 2.0), (49, 2.0), (49, 2.3), (51, 2.6), (53, 2.85)], 54, 100,
     [2.96, 3.0, 2.93, 2.98, 2.99, 2.95, 2.97, 3.0, 2.89, 2.99, 2.96, 2.98, 3.0, 2.92, 2.97, 2.99, 2.95, 2.98, 3.0, 2.96,
      2.93, 2.99, 2.97, 2.95, 3.0, 2.98, 2.94, 2.97, 2.99, 2.96, 3.0, 2.93, 2.98, 2.96, 2.99, 2.97, 2.95, 3.0, 2.98, 2.94,
      2.97, 2.99, 2.96, 3.0, 2.93, 2.98, 2.97], []),
    (13, [(7, .05), (14, .06), (14, .1), (21, .1), (21, .3), (26, 1.5), (30, 2.0), (56, 2.0), (56, 2.4), (57, 2.8)], 57.5, 100,
     [2.9, 2.94, 2.87, 2.92, 2.96, 2.89, 2.93, 2.86, 2.91, 2.95, 2.88, 2.93, 2.9, 2.97, 2.87, 2.92, 2.89, 2.95, 2.91, 2.86,
      2.94, 2.9, 2.88, 2.93, 2.96, 2.89, 2.92, 2.87, 2.95, 2.9, 2.93, 2.86, 2.91, 2.94, 2.88, 2.92, 2.96, 2.89, 2.9, 2.93,
      2.87, 2.91, 2.94], []),
    (10, [(7, .05), (14, .06), (14, .1), (21, .1), (21, .15), (28, .18), (28, .3), (31, .8), (34, 1.5), (36, 1.9), (37, 2.0), (56, 2.0), (56, 2.6), (57, 2.8)], 57.5, 100,
     [2.95, 2.99, 3.0, 2.96, 2.93, 2.98, 2.97, 3.0, 2.95, 2.99, 2.94, 2.97, 2.98, 3.0, 2.96, 2.99, 2.92, 2.97, 2.99, 2.96,
      3.0, 2.94, 2.98, 2.97, 2.95, 2.99, 3.0, 2.96, 2.98, 2.93, 2.97, 3.0, 2.99, 2.95, 2.98, 2.96, 2.94, 2.99, 3.0, 2.97,
      2.95, 2.98, 2.96], []),
    (9, [(7, .04), (14, .05), (14, .12), (21, .1), (21, .35), (23, .9), (25, 1.5), (27, 2.0), (35, 2.0), (35, 3.0)], 36, 100,
     [2.95, 2.99, 2.97, 2.93, 3.0, 2.96, 2.98, 2.94, 2.99, 2.97, 2.91, 2.98, 3.0, 2.95, 2.97, 2.99, 2.93, 2.98, 2.96, 3.0,
      2.94, 2.99, 2.97, 2.95, 2.98, 3.0, 2.96, 2.92, 2.99, 2.97, 2.95, 3.0, 2.98, 2.93, 2.97, 2.99, 2.96, 2.94, 3.0, 2.97,
      2.99, 2.95, 2.98, 2.96, 2.93, 2.99, 3.0, 2.97, 2.95, 2.98, 2.96, 2.99, 2.94, 2.97, 3.0, 2.96, 2.98, 2.8, 2.93, 2.97,
      2.99, 2.95, 2.98, 2.96, 2.99], []),
]

caption_lines = [
    [("Figure 10 Evolution of early codes by selecting on the ATP yield", "bold"),
     (". Evolution of the assignation of amino acids to adapters by selecting on", "normal")],
    [("the resulting ATP yield. (A) Employing only the simplest four Miller amino acids (alanine, aspartic acid, glycine and valine) 104 runs with initial", "normal")],
    [("random associations converged to optimise the ATP yield, in all cases reaching to the maximum of 2 moles of ATP. (B) 100 runs started from", "normal")],
    [("random associations to alanine and glycine and every 7000 generations a new Miller amino acid, randomly selected, was included and assigned", "normal")],
    [("to a random adapter. Most runs converged to optimal codes (with the maximum yield of 3 moles of ATP), but three did not.", "normal")],
]


# ---------------- helpers ----------------
def mma_color(i):
    # Mathematica's default series colours Hue[0.67 + 0.236 i, 0.6, 0.6], a little lighter as thin rasterised lines look
    r, g, b = colorsys.hsv_to_rgb((0.67 + 0.236068 * i) % 1.0, 0.6, 0.6)
    return tuple(0.8 * c + 0.2 for c in (r, g, b))


def sampled(runs, head, start, step):
    return [(ci, head + [(start + k * step, v) for k, v in enumerate(vals)] + tail) for ci, vals, tail in runs]


def banded(runs, head):
    out = []
    for ci, hist, g0, g1, vals, tail in runs:
        gens = np.linspace(g0, g1, len(vals))
        out.append((ci, head + hist + list(zip(gens, vals)) + tail))
    return out


def frame(runs, tag):
    rows = []
    for k, (ci, pts) in enumerate(runs):
        for g, y in pts:
            rows.append((f"{tag}{k:03d}", g * 1000, y))
    df = pd.DataFrame(rows, columns=["run", "gen", "atp"])
    pal = {f"{tag}{k:03d}": mma_color(ci) for k, (ci, _) in enumerate(runs)}
    return df, pal


def fmt(v):
    return f"{int(v):,}".replace(",", "\u2009")


sns.set_style("white")
serif = ["Liberation Serif", "DejaVu Serif"]
plt.rcParams["font.family"] = serif

W, H = 1285, 556
fig = plt.figure(figsize=(W / 100, H / 100), dpi=100)

ax_a = fig.add_axes([74 / W, 1 - 358 / H, 540 / W, 331 / H])
ax_b = fig.add_axes([728 / W, 1 - 358 / H, 539 / W, 331 / H])

a_all = sampled(a_swarm, [], 0, a_swarm_step) + a_fast + a_mid + a_slow
b_all = (sampled(b_swarm, b_start, b_swarm_start, b_swarm_step)
         + [(ci, b_start + pts) for ci, pts in b_runs]
         + banded(b_band_runs, b_start))

for ax, runs, tag in [(ax_a, a_all, "a"), (ax_b, b_all, "b")]:
    df, pal = frame(runs, tag)
    sns.lineplot(data=df, x="gen", y="atp", hue="run", palette=pal, hue_order=list(pal),
                 estimator=None, sort=False, legend=False, linewidth=0.75, ax=ax)

ax_a.set_xlim(-1200, 61200)
ax_a.set_ylim(-0.064, 2.042)
ax_a.set_xticks(np.arange(0, 60001, 10000))
ax_a.set_xticks(np.arange(0, 60001, 2000), minor=True)
ax_a.set_yticks(np.arange(0, 2.01, 0.5))
ax_a.set_yticks(np.arange(0, 2.01, 0.1), minor=True)

ax_b.set_xlim(-2300, 102100)
ax_b.set_ylim(-0.10, 3.09)
ax_b.set_xticks(np.arange(0, 100001, 20000))
ax_b.set_xticks(np.arange(0, 100001, 5000), minor=True)
ax_b.set_yticks(np.arange(0, 3.01, 0.5))
ax_b.set_yticks(np.arange(0, 3.01, 0.1), minor=True)

for ax, letter, lx in [(ax_a, "A", 0.024), (ax_b, "B", 0.037)]:
    ax.set_xticklabels([fmt(v) for v in ax.get_xticks()])
    ax.set_yticklabels([f"{v:.1f}" for v in ax.get_yticks()])
    ax.tick_params(which="both", direction="in", top=True, right=True, color="#9a9a9a",
                   labelcolor="#111111", labelsize=10.5, pad=3.5, width=0.8)
    ax.tick_params(which="major", length=5.5)
    ax.tick_params(which="minor", length=3)
    for s in ax.spines.values():
        s.set_color("#a8a8a8")
        s.set_linewidth(1.1)
    ax.set_xlabel("Generations", fontsize=10.5, color="#111111")
    ax.set_ylabel("ATP Yield", fontsize=10.5, color="#111111")
    ax.text(lx, 0.952, letter, transform=ax.transAxes, fontsize=14, va="center", ha="left", color="#111111")
ax_a.xaxis.set_label_coords(0.5, -0.10)
ax_b.xaxis.set_label_coords(0.5, -0.10)
ax_a.yaxis.set_label_coords(-0.065, 0.5)
ax_b.yaxis.set_label_coords(-0.063, 0.5)

# rounded border of the figure panel (runs off the right and bottom edges)
border = mpatches.FancyBboxPatch((8.5, -40), 1330, 40 + H - 10, boxstyle="round,pad=0,rounding_size=14",
                                 transform=transforms.IdentityTransform(), fill=False,
                                 edgecolor="#3a3a3a", linewidth=1.4)
fig.add_artist(border)


# caption font: a condensed sans if one is installed, else Liberation Sans
def pick_condensed(target):
    best = None
    for f in font_manager.fontManager.ttflist:
        if not ("Condensed" in f.name or "Narrow" in f.name or f.stretch in ("condensed", "semi-condensed")):
            continue
        if f.style != "normal" or "Semi" in f.name or "Extra" in f.name:
            continue
        w = f.weight if isinstance(f.weight, (int, float)) else font_manager.weight_dict.get(f.weight, 400)
        if best is None or abs(w - target) < best[0]:
            best = (abs(w - target), w, f.fname)
    return best


reg = pick_condensed(400)
bold = pick_condensed(700)
if reg is not None and bold is not None and reg[1] <= 500 and bold[1] >= 600:
    props = {"normal": font_manager.FontProperties(fname=reg[2]),
             "bold": font_manager.FontProperties(fname=bold[2])}
else:
    props = {"normal": font_manager.FontProperties(family="Liberation Sans"),
             "bold": font_manager.FontProperties(family="Liberation Sans", weight="bold")}

renderer = fig.canvas.get_renderer()


def width(s, weight, size):
    t = fig.text(0, 0, s, fontproperties=props[weight], fontsize=size)
    w = t.get_window_extent(renderer).width
    t.remove()
    return w


def words_of(line):
    words = []
    for text, weight in line:
        parts = text.split(" ")
        for j, p in enumerate(parts):
            if j == 0 and words and not text.startswith(" "):
                words[-1].append((p, weight))
            elif p:
                words.append([(p, weight)])
    return words


x_left, x_right = 22, 1262
baselines = [433, 458, 483, 508, 533]
# the unjustified last line runs to about x = 990
last = sum(width(t, w, 10) for t, w in caption_lines[-1])
cap_size = min(13.0, 10 * (990 - x_left) / last)
space = width("a a", "normal", cap_size) - width("aa", "normal", cap_size)
for n, (line, base) in enumerate(zip(caption_lines, baselines)):
    words = words_of(line)
    wws = [sum(width(p, w, cap_size) for p, w in word) for word in words]
    gap = space
    if n < len(caption_lines) - 1:
        gap = (x_right - x_left - sum(wws)) / (len(words) - 1)
    x = x_left
    for word, ww in zip(words, wws):
        px = x
        for p, w in word:
            fig.text(px / W, 1 - base / H, p, fontproperties=props[w], fontsize=cap_size,
                     va="baseline", ha="left", color="#1a1a1a")
            px += width(p, w, cap_size)
        x += ww + gap

fig.savefig("out.png", dpi=100)
